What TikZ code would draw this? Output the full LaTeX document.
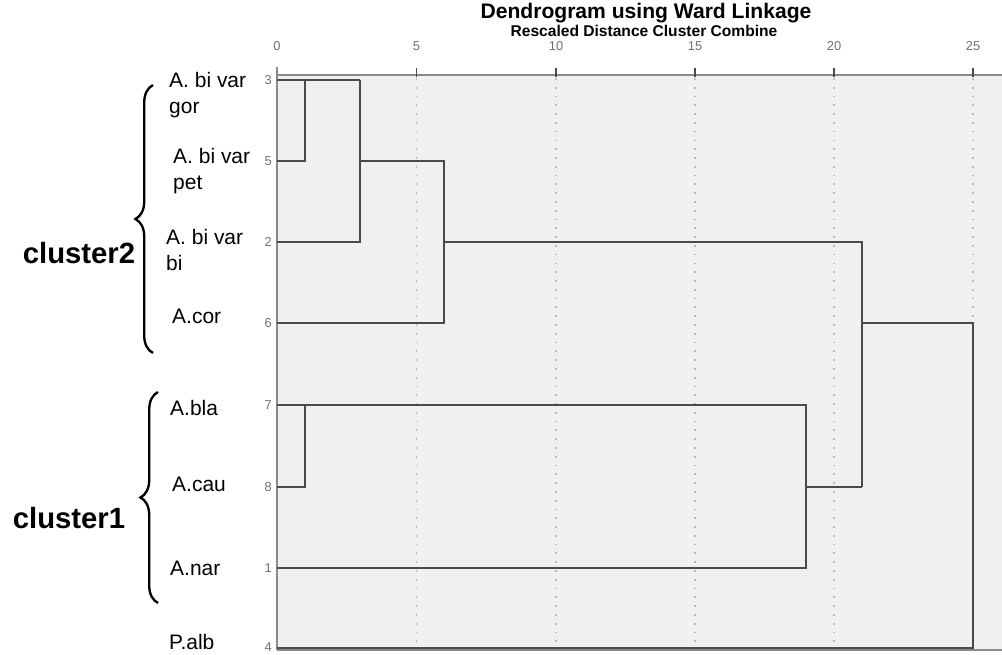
\documentclass[tikz,border=0pt]{standalone}
\usepackage{fontspec}
\setmainfont{Liberation Sans}
\usetikzlibrary{decorations.pathreplacing}
\definecolor{plotbg}{HTML}{F0F0F0}
\definecolor{treegray}{HTML}{4A4A4A}
\definecolor{axisgray}{HTML}{8A8A8A}
\definecolor{gridgray}{HTML}{B8B8B8}
\definecolor{numgray}{HTML}{707070}

\begin{document}
\begin{tikzpicture}[x=0.03cm, y=-0.03cm,
  treeline/.style={draw=treegray, line width=1.6pt},
  axisline/.style={draw=axisgray, line width=2pt},
  gridline/.style={draw=gridgray, line width=1.2pt, dash pattern=on 1.5pt off 6pt},
  tickmark/.style={draw=treegray, line width=1.5pt},
  rownum/.style={text=numgray, anchor=east, inner sep=0, font=\fontsize{11}{13}\selectfont},
  axisnum/.style={text=numgray, inner sep=0, font=\fontsize{11}{13}\selectfont},
  taxon/.style={anchor=west, align=left, inner sep=0, font=\fontsize{17.9}{22}\selectfont},
  clusterlabel/.style={inner sep=0, font=\bfseries\fontsize{25}{28}\selectfont},
  clusterbrace/.style={decorate, decoration={brace, amplitude=15pt}, line width=2pt}]
\useasboundingbox (0,0) rectangle (1002,655);
\fill[plotbg] (277,75) rectangle (1002,650);

\node[font=\bfseries\fontsize{18}{20}\selectfont] (title) at (646,13) {Dendrogram using Ward Linkage};
\node[font=\bfseries\fontsize{13.3}{15}\selectfont] (subtitle) at (644,31) {Rescaled Distance Cluster Combine};

\draw[gridline] (416.5,78) -- (416.5,650);
\draw[gridline] (556,78) -- (556,650);
\draw[gridline] (695,78) -- (695,650);
\draw[gridline] (834,78) -- (834,650);
\draw[gridline] (973,78) -- (973,650);

\draw[axisline] (277,75) -- (1002,75);
\draw[axisline] (277,67) -- (277,650);
\draw[axisline] (277,650) -- (1002,650);
\draw[tickmark] (416.5,68) -- (416.5,77);
\draw[tickmark] (556,68) -- (556,77);
\draw[tickmark] (695,68) -- (695,77);
\draw[tickmark] (834,68) -- (834,77);
\draw[tickmark] (973,68) -- (973,77);

\node[axisnum] (t0) at (277,46) {0};
\node[axisnum] (t5) at (416.5,46) {5};
\node[axisnum] (t10) at (556,46) {10};
\node[axisnum] (t15) at (695,46) {15};
\node[axisnum] (t20) at (834,46) {20};
\node[axisnum] (t25) at (973,46) {25};

\node[rownum] (n3) at (272,80) {3};
\node[rownum] (n5) at (272,161) {5};
\node[rownum] (n2) at (272,242) {2};
\node[rownum] (n6) at (272,323) {6};
\node[rownum] (n7) at (272,405) {7};
\node[rownum] (n8) at (272,487) {8};
\node[rownum] (n1) at (272,568) {1};
\node[rownum] (n4) at (272,647) {4};

\draw[treeline] (277,80) -- (360,80);
\draw[treeline] (277,161) -- (305,161) -- (305,80);
\draw[treeline] (360,80) -- (360,242) -- (277,242);
\draw[treeline] (360,161) -- (444,161) -- (444,323) -- (277,323);
\draw[treeline] (444,242) -- (862,242) -- (862,487);
\draw[treeline] (277,405) -- (806,405) -- (806,568) -- (277,568);
\draw[treeline] (277,487) -- (305,487) -- (305,405);
\draw[treeline] (806,487) -- (862,487);
\draw[treeline] (862,323) -- (973,323) -- (973,648) -- (277,648);

\node[taxon] (gor) at (169,95) {A. bi var\\gor};
\node[taxon] (pet) at (173,171) {A. bi var\\pet};
\node[taxon] (bi) at (166,250) {A. bi var\\bi};
\node[taxon] (cor) at (172,316) {A.cor};
\node[taxon] (bla) at (170,408) {A.bla};
\node[taxon] (cau) at (172,484) {A.cau};
\node[taxon] (nar) at (170,568) {A.nar};
\node[taxon] (alb) at (169,642) {P.alb};

\draw[clusterbrace] (153,353) -- (153,85);
\draw[clusterbrace] (158,603) -- (158,392);
\node[clusterlabel] (cluster2) at (79,253) {cluster2};
\node[clusterlabel] (cluster1) at (69,518) {cluster1};

\end{tikzpicture}
\end{document}
